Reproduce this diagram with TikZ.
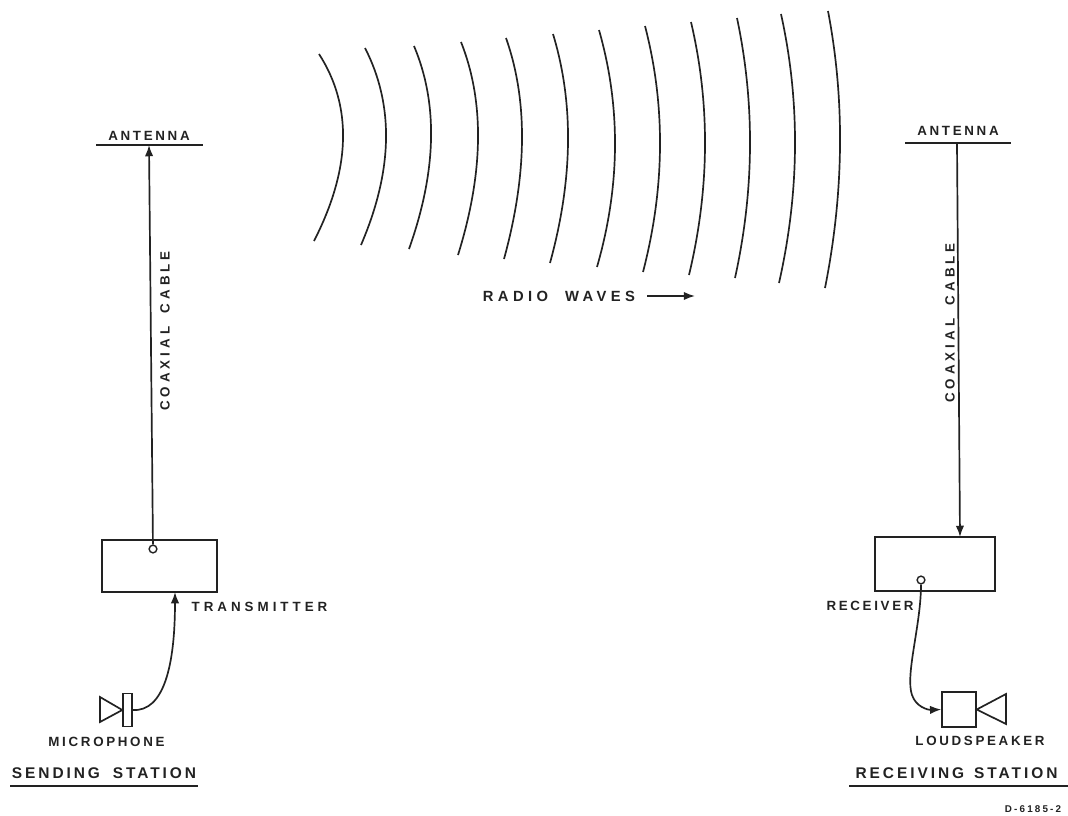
\documentclass[tikz,border=0pt]{standalone}
\usepackage{fontspec}
\setmainfont{Liberation Sans}
\usepackage{tikz}
\usetikzlibrary{shapes,positioning,calc}
\usetikzlibrary{arrows.meta}
\definecolor{inkc}{HTML}{222222}
\newfontfamily\lblfont[LetterSpace=20]{Liberation Sans Bold}
\newfontfamily\titlefont[LetterSpace=19]{Liberation Sans Bold}
\newfontfamily\widefont[LetterSpace=30]{Liberation Sans Bold}
\newfontfamily\tinyfont[LetterSpace=22]{Liberation Sans Bold}
\tikzstyle{stazione} = [rectangle, draw=inkc, line width=1.4pt, inner sep=0pt]
\tikzstyle{porta} = [circle, draw=inkc, fill=white, line width=1pt, minimum size=5.5pt, inner sep=0pt]
\tikzstyle{etichetta} = [text=inkc, inner sep=0pt, font=\lblfont\fontsize{9.5}{11}\selectfont]
\tikzstyle{largo} = [text=inkc, inner sep=0pt, font=\widefont\fontsize{9.5}{11}\selectfont]
\tikzstyle{titolo} = [text=inkc, inner sep=0pt, font=\titlefont\fontsize{11}{13}\selectfont]
\tikzstyle{filo} = [draw=inkc, line width=1.2pt]
\tikzstyle{arrow} = [filo,-{Latex[length=8pt,width=6pt]}]
\tikzstyle{onda} = [draw=inkc, line width=1.2pt]

\begin{document}
\begin{tikzpicture}[x=0.025cm,y=-0.025cm]
	\useasboundingbox (0,0) rectangle (1068,816);
	% waves
	\foreach \xa/\ya/\xm/\ym/\xb/\yb in {319/54/343/140/314/241,365/48/386/140/361/245,414/46/431/140/409/249,461/42/478/140/458/255,506/38/522/140/504/259,553/34/568/143/550/263,599/30/615/147/597/267,645/26/660/147/643/272,691/22/705/147/689/275,737/18/750/147/735/278,781/14/795/147/779/283,828/11/840/147/825/288}
		\draw[onda] (\xa,\ya) .. controls ({(4*\xm-\xb)/3},{(4*\ym-\yb)/3}) and ({(4*\xm-\xa)/3},{(4*\ym-\ya)/3}) .. (\xb,\yb);
	\node (onde) at (559,296) [largo, font=\widefont\fontsize{10.5}{12}\selectfont] {RADIO\hspace{6pt} WAVES};
	\coordinate (ondeA) at (647,296);
	\coordinate (ondeB) at (695,296);
	\draw[arrow] (ondeA) -- (ondeB);
	% sending station
	\node (anttx) at (149,136) [etichetta] {ANTENNA};
	\coordinate (anttxL) at (96,145);
	\coordinate (anttxR) at (203,145);
	\coordinate (anttxC) at (149,145);
	\draw[filo] (anttxL) -- (anttxR);
	\node (tx) at (159.5,566) [stazione, minimum width=81.8pt, minimum height=37.5pt] {};
	\node (txp) at (153,549) [porta] {};
	\coordinate (txin) at (175,592);
	\draw[arrow] (txp) -- (anttxC);
	\node (cavotx) at (165,331) [largo, rotate=90] {COAXIAL\hspace{4pt} CABLE};
	\node (txl) at (259.5,607) [largo] {TRANSMITTER};
	\node (micb) at (127.5,710) [draw=inkc, line width=1pt, minimum width=6.4pt, minimum height=23.5pt, inner sep=0pt] {};
	\coordinate (mica) at (100,697);
	\coordinate (micc) at (100,722);
	\draw[filo, line join=miter] (mica) -- (micb.west) -- (micc) -- cycle;
	\draw[arrow] (micb.east) .. controls (164,712) and (175,665) .. (txin);
	\node (micl) at (106.5,742) [etichetta] {MICROPHONE};
	\node (send) at (104,773) [titolo] {SENDING\hspace{4pt} STATION};
	\coordinate (sendL) at (10,786);
	\coordinate (sendR) at (198,786);
	\draw[filo, line width=1.4pt] (sendL) -- (sendR);
	% receiving station
	\node (antrx) at (958,131) [etichetta] {ANTENNA};
	\coordinate (antrxL) at (905,143);
	\coordinate (antrxR) at (1011,143);
	\coordinate (antrxC) at (957,143);
	\coordinate (rxin) at (960,537);
	\draw[filo] (antrxL) -- (antrxR);
	\node (rx) at (935,564) [stazione, minimum width=85.3pt, minimum height=38.4pt] {};
	\node (rxp) at (921,580) [porta] {};
	\draw[arrow] (antrxC) -- (rxin);
	\node (cavorx) at (950,323) [largo, rotate=90] {COAXIAL\hspace{4pt} CABLE};
	\node (rxl) at (870,606) [etichetta] {RECEIVER};
	\node (spk) at (959,709.5) [draw=inkc, line width=1pt, minimum width=24.2pt, minimum height=24.9pt, inner sep=0pt] {};
	\coordinate (spka) at (1006,694);
	\coordinate (spkc) at (1006,724);
	\draw[filo, line join=miter] (spka) -- (spk.east) -- (spkc) -- cycle;
	\draw[arrow] (rxp) .. controls (921,625) and (905,675) .. (912,695) .. controls (916,707) and (928,710) .. (spk.west);
	\node (spkl) at (980,741) [etichetta] {LOUDSPEAKER};
	\node (recv) at (956.5,773) [titolo] {RECEIVING\hspace{2pt} STATION};
	\coordinate (recvL) at (849,786);
	\coordinate (recvR) at (1068,786);
	\draw[filo, line width=1.4pt] (recvL) -- (recvR);
	\node (rif) at (1033,809) [text=inkc, inner sep=0pt, font=\tinyfont\fontsize{7}{8}\selectfont] {D-6185-2};
\end{tikzpicture}
\end{document}
